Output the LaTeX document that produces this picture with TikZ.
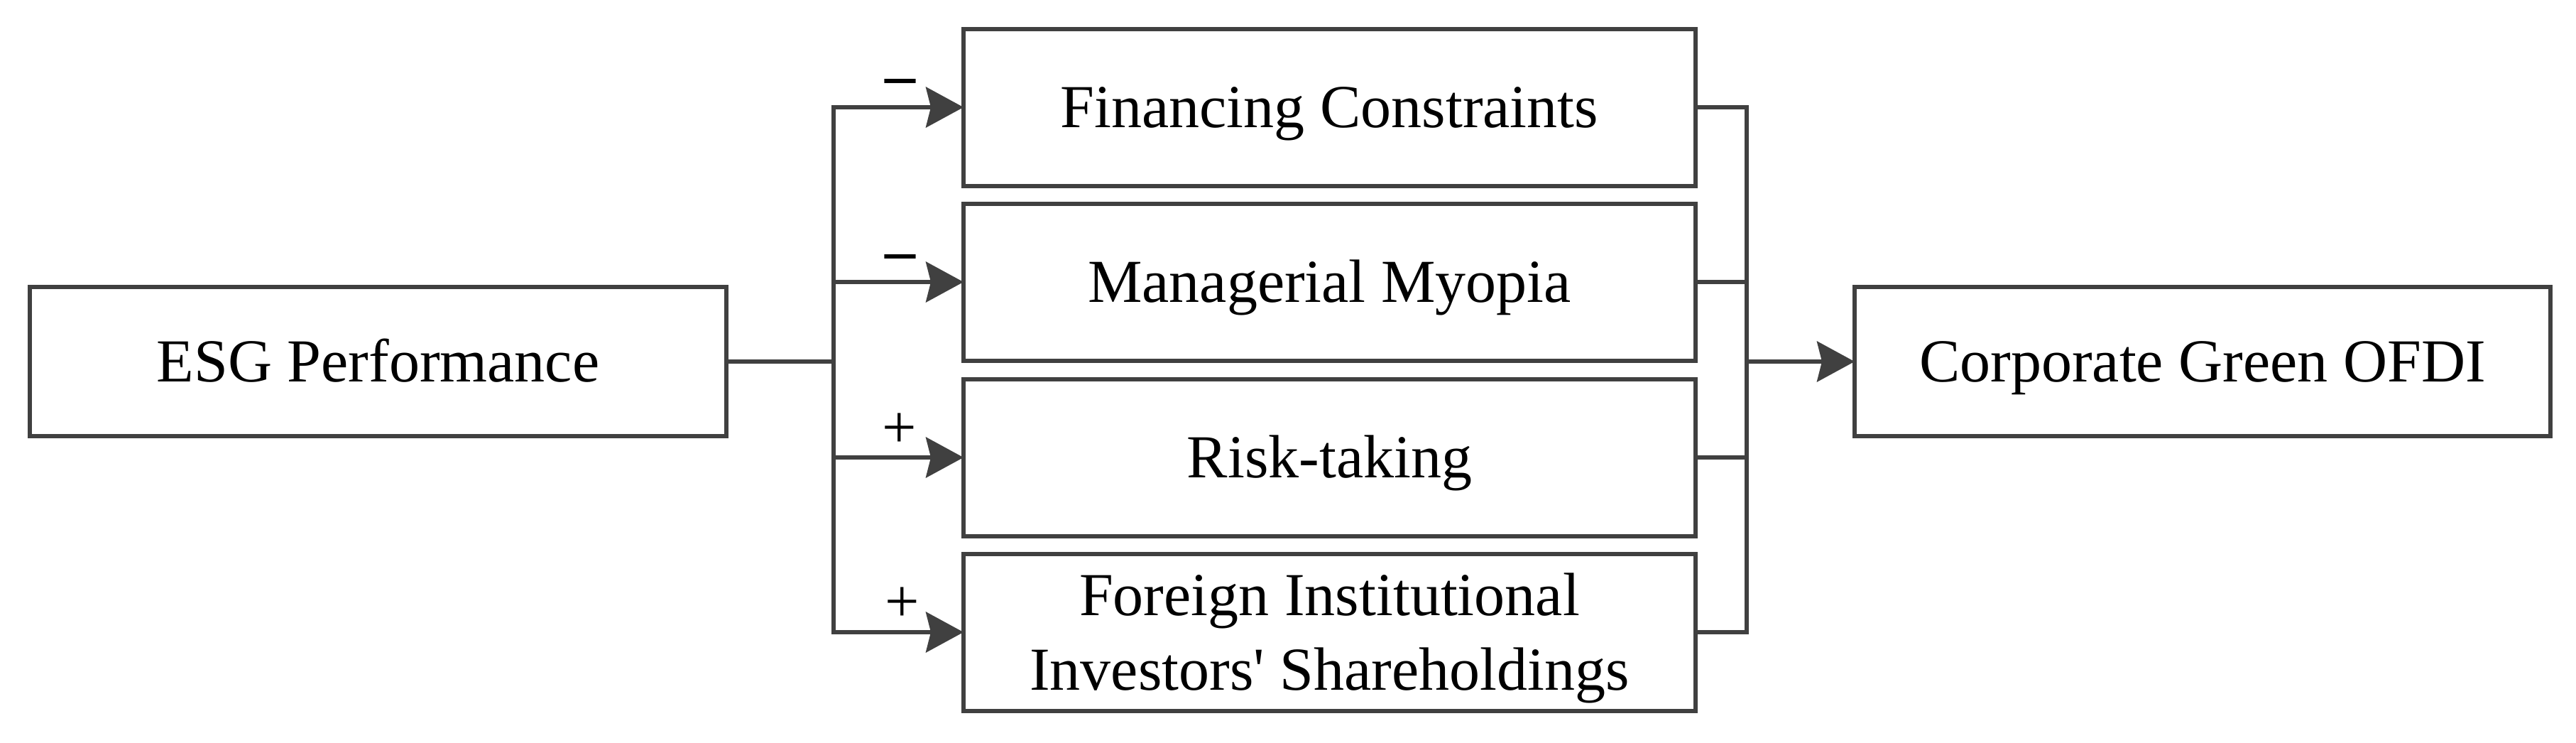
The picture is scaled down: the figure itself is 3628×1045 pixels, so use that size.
\documentclass[tikz,border=0pt]{standalone}
\usepackage{fontspec}
\setmainfont{Liberation Serif}
\font\boxfont="Liberation Serif" at 17.2pt
\font\boxfontb="Liberation Serif/B" at 17.2pt
\newcommand\boxfontsel{\boxfont\baselineskip=21pt\relax}
\usetikzlibrary{arrows.meta}
\definecolor{linegray}{HTML}{404040}
\tikzset{
  box/.style={draw=linegray, line width=1.2pt, inner sep=0pt, outer sep=0pt,
    text height=11.39pt, text depth=0pt, align=center,
    font=\boxfontsel},
  midbox/.style={box, minimum width=206.2pt, minimum height=44.2pt},
  twoline/.style={text height=32.39pt},
  endbox/.style={box, minimum width=196pt, minimum height=42pt},
  conn/.style={draw=linegray, line width=1.1pt},
  arr/.style={conn, -{Stealth[length=10.6pt, width=11.4pt, inset=1.4pt]}},
  sign/.style={inner sep=0pt, outer sep=0pt, anchor=base, font=\boxfont},
  minussign/.style={sign, font=\boxfontb},
}
\begin{document}
\begin{tikzpicture}[x=0.2pt, y=-0.2pt]
\useasboundingbox (0,0) rectangle (3628,1045);
\node[endbox] (esg) at (532.5,509) {ESG Performance};
\node[midbox] (m1) at (1872.5,151) {Financing Constraints};
\node[midbox] (m2) at (1872.5,397) {Managerial Myopia};
\node[midbox] (m3) at (1872.5,644) {Risk-taking};
\node[midbox, twoline] (m4) at (1872.5,890) {Foreign Institutional\\Investors' Shareholdings};
\node[endbox] (ofdi) at (3102,509) {Corporate Green OFDI};
% branch points
\coordinate (bm) at (1174,509);
\coordinate (b1) at (1174,151);
\coordinate (b2) at (1174,397);
\coordinate (b3) at (1174,644);
\coordinate (b4) at (1174,890);
\coordinate (cm) at (2460,509);
\coordinate (c1) at (2460,151);
\coordinate (c2) at (2460,397);
\coordinate (c3) at (2460,644);
\coordinate (c4) at (2460,890);
% left connectors
\draw[conn] (esg.east) -- (bm);
\draw[conn, line cap=rect] (b1) -- (b4);
\draw[arr] (b1) -- (m1.west);
\draw[arr] (b2) -- (m2.west);
\draw[arr] (b3) -- (m3.west);
\draw[arr] (b4) -- (m4.west);
% right connectors
\draw[conn] (m1.east) -- (c1) -- (c4) -- (m4.east);
\draw[conn] (m2.east) -- (c2);
\draw[conn] (m3.east) -- (c3);
\draw[arr] (cm) -- (ofdi.west);
% signs
\node[minussign] (s1) at (1268,134) {–};
\node[minussign] (s2) at (1268,381) {–};
\node[sign] (s3) at (1267,630) {+};
\node[sign] (s4) at (1271,875) {+};
\end{tikzpicture}
\end{document}
